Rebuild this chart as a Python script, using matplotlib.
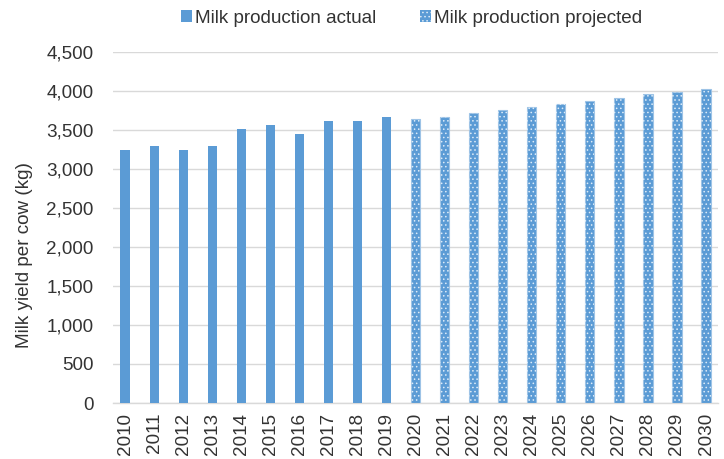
import numpy as np
import matplotlib.pyplot as plt
from matplotlib.patches import Patch

years = [str(y) for y in range(2010, 2031)]
actual = [3240, 3300, 3240, 3300, 3510, 3565, 3450, 3610, 3620, 3670]
projected = [3640, 3660, 3720, 3757, 3795, 3838, 3876, 3915, 3958, 3992, 4030]

blue = '#5B9BD5'
fs = 13.6
plt.rcParams['font.family'] = 'Liberation Sans'

fig = plt.figure(figsize=(7.24, 4.59), dpi=100)
ax = fig.add_axes([0.156, 0.122, 0.836, 0.765])

x_act = np.arange(len(actual))
x_proj = np.arange(len(actual), len(years))
w = 0.32

ax.bar(x_act, actual, width=w, color=blue, zorder=3)
ax.bar(x_proj, projected, width=w, color=blue, edgecolor='#9DC3E6', linewidth=0.8, zorder=3)
# dotted overlay on the projected bars
plt.rcParams['hatch.linewidth'] = 0.6
ax.bar(x_proj, projected, width=w, facecolor='none', edgecolor='#DDEBF7', hatch='....', linewidth=0, zorder=4)

ax.set_xlim(-0.42, len(years) - 0.58)
ax.set_ylim(0, 4500)
ax.set_yticks(np.arange(0, 4501, 500))
ax.set_yticklabels([f'{v:,}' for v in range(0, 4501, 500)], fontsize=fs, color='#333333')
ax.set_xticks(np.arange(len(years)))
ax.set_xticklabels(years, rotation=90, fontsize=fs, color='#333333')
ax.tick_params(axis='y', length=0, pad=14)
ax.tick_params(axis='x', length=0, pad=7)
ax.set_ylabel('Milk yield per cow (kg)', fontsize=fs, color='#333333')
ax.yaxis.set_label_coords(-0.132, 0.42)

ax.grid(axis='y', color='#D9D9D9', linewidth=1, zorder=0)
for s in ['left', 'right', 'top']:
    ax.spines[s].set_visible(False)
ax.spines['bottom'].set_color('#D9D9D9')
ax.spines['bottom'].set_linewidth(1)

handles = [Patch(facecolor=blue, label='Milk production actual'),
           Patch(facecolor=blue, edgecolor='#DDEBF7', hatch='....', linewidth=0, label='Milk production projected')]
fig.legend(handles=handles, loc='upper center', bbox_to_anchor=(0.568, 1.015), ncol=2, frameon=False,
           fontsize=fs, handlelength=0.6, handleheight=0.6, handletextpad=0.15, columnspacing=2.3,
           labelcolor='#333333')

fig.savefig('out.png', dpi=100)
